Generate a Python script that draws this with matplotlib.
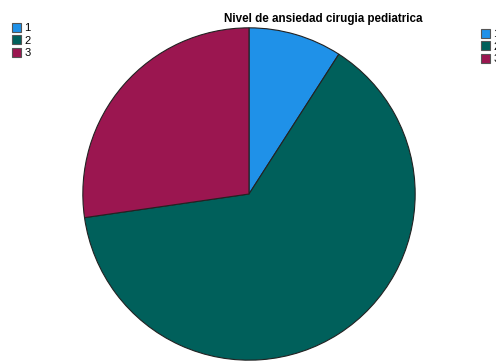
import matplotlib
matplotlib.use('Agg')
import matplotlib.pyplot as plt
from matplotlib.patches import Patch

categories = ['1', '2', '3']
counts = [3, 21, 9]
colors = ['#1f91e8', '#00605b', '#9b1650']

plt.rcParams['font.family'] = ['Liberation Sans', 'DejaVu Sans']

W, H = 496, 363
fig = plt.figure(figsize=(W / 100, H / 100), dpi=100)

# pie centre (249, 194) px, radius ~167 px
cx, cy, r = 249, 194, 167
ax = fig.add_axes([(cx - r) / W, (H - cy - r) / H, 2 * r / W, 2 * r / H])
wedges, _ = ax.pie(counts, colors=colors, startangle=90, counterclock=False,
                   radius=1, wedgeprops=dict(edgecolor='#222222', linewidth=0.8))
ax.set_xlim(-1.005, 1.005)
ax.set_ylim(-1.005, 1.005)
ax.set_aspect('auto')
ax.axis('off')

fig.text(323 / W, 1 - 19 / H, 'Nivel de ansiedad cirugia pediatrica',
         ha='center', va='center', fontsize=8.4, fontweight='bold')

handles = [Patch(facecolor=c, edgecolor='#555555', linewidth=0.8) for c in colors]
leg_kw = dict(frameon=False, fontsize=8, handlelength=0.85, handleheight=0.85,
              labelspacing=0.2, handletextpad=0.25, borderpad=0, borderaxespad=0)
fig.legend(handles, categories, loc='upper left',
           bbox_to_anchor=(12 / W, 1 - 23 / H), **leg_kw)
fig.legend(handles, categories, loc='upper left',
           bbox_to_anchor=(481 / W, 1 - 29 / H), **leg_kw)

fig.savefig('out.png', dpi=100)
